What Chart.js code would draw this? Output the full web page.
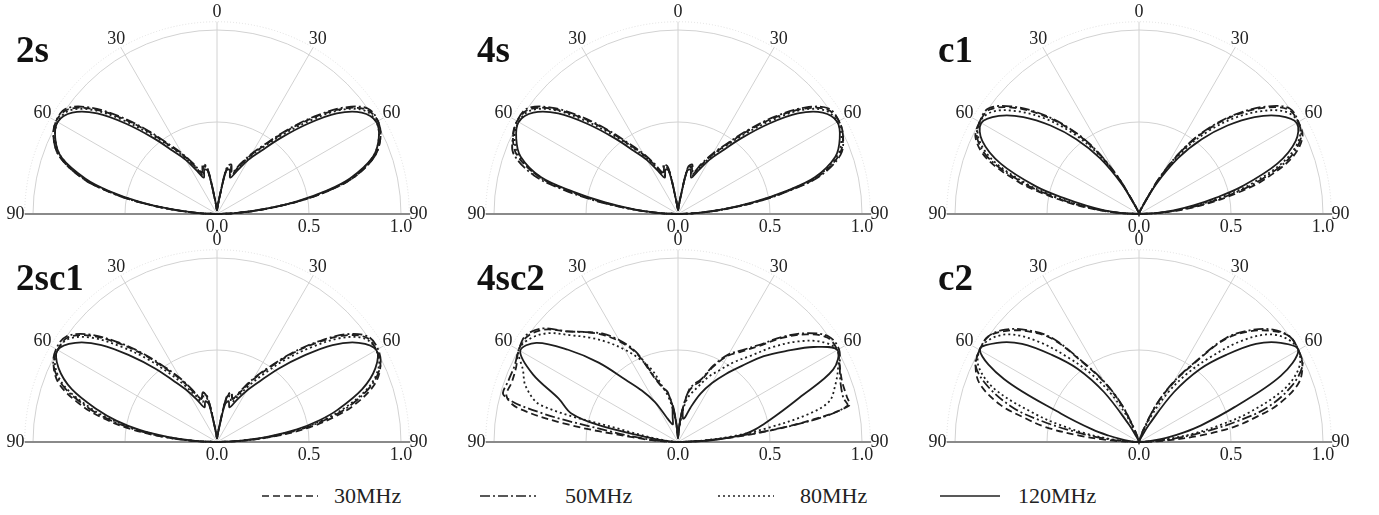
<!DOCTYPE html>
<html>
<head>
<meta charset="utf-8">
<script src="https://cdn.jsdelivr.net/npm/chart.js@4.4.1/dist/chart.umd.min.js"></script>
<style>
  body { margin: 0; background: #fff; width: 1379px; height: 515px; position: relative; overflow: hidden;
         font-family: "Liberation Serif", "DejaVu Serif", serif; }
  canvas { position: absolute; }
  .lg { position: absolute; top: 484px; height: 24px; line-height: 24px; font-size: 22px; color: #222; }
  .lg svg { display: block; margin-top: 7px; }
</style>
</head>
<body>

<div class="lg" style="left:262px"><svg width="56" height="10"><line x1="0" y1="5" x2="56" y2="5" stroke="#222" stroke-width="1.6" stroke-dasharray="7,4"/></svg></div>
<div class="lg" style="left:334px">30MHz</div>
<div class="lg" style="left:480px"><svg width="56" height="10"><line x1="0" y1="5" x2="56" y2="5" stroke="#222" stroke-width="1.6" stroke-dasharray="10,3,2,3"/></svg></div>
<div class="lg" style="left:565px">50MHz</div>
<div class="lg" style="left:718px"><svg width="56" height="10"><line x1="0" y1="5" x2="56" y2="5" stroke="#222" stroke-width="1.6" stroke-dasharray="2,3"/></svg></div>
<div class="lg" style="left:800px">80MHz</div>
<div class="lg" style="left:940px"><svg width="60" height="10"><line x1="0" y1="5" x2="60" y2="5" stroke="#222" stroke-width="1.6"/></svg></div>
<div class="lg" style="left:1018px">120MHz</div>

<script>
// angles in degrees from vertical (left side negative)
const THETA = [-90,-87,-84,-81,-78,-75,-70,-65,-60,-55,-50,-45,-40,-35,-30,-25,-20,-16,-12,-8,-4,
               0,
               4,8,12,16,20,25,30,35,40,45,50,55,60,65,70,75,78,81,84,87,90];

const FREQS = ['30MHz', '50MHz', '80MHz', '120MHz'];

// normalised pattern
// 2s
const S2S_30  = [0,.11,.26,.45,.62,.76,.91,.98,1.01,.99,.89,.74,.59,.46,.37,.29,.23,.27,.25,.08,.03, .02, .03,.08,.25,.27,.23,.29,.37,.46,.59,.74,.89,.99,1.01,.98,.91,.77,.63,.46,.27,.11,0];
const S2S_50  = [0,.11,.26,.45,.62,.76,.91,.98,1.01,1.0,.90,.75,.60,.47,.38,.30,.24,.28,.26,.09,.03, .02, .03,.09,.26,.28,.24,.30,.38,.47,.60,.75,.90,1.0,1.01,.98,.91,.77,.63,.46,.27,.11,0];
const S2S_80  = [0,.10,.26,.44,.61,.75,.90,.97,1.0,.98,.88,.72,.57,.45,.36,.28,.22,.26,.25,.08,.03, .02, .03,.08,.25,.26,.22,.28,.36,.45,.57,.72,.88,.98,1.0,.97,.90,.76,.62,.45,.26,.11,0];
const S2S_120 = [0,.10,.25,.43,.60,.74,.90,.97,1.0,.96,.85,.69,.54,.42,.34,.26,.21,.25,.24,.08,.03, .02, .03,.08,.24,.25,.21,.26,.34,.42,.54,.69,.85,.96,1.0,.97,.90,.75,.61,.44,.26,.11,0];
// 4s
const S4S_30  = [0,.11,.25,.43,.61,.78,.93,.99,1.01,.99,.89,.74,.59,.46,.37,.29,.23,.27,.25,.08,.03, .02, .03,.08,.25,.27,.23,.29,.37,.46,.59,.74,.89,.99,1.01,.99,.93,.79,.62,.44,.26,.11,0];
const S4S_50  = [0,.11,.26,.45,.64,.81,.95,.99,1.01,1.0,.90,.75,.60,.47,.38,.30,.24,.28,.26,.09,.03, .02, .03,.09,.26,.28,.24,.30,.38,.47,.60,.75,.90,1.0,1.01,.99,.94,.80,.63,.45,.26,.11,0];
const S4S_80  = [0,.10,.25,.42,.60,.78,.92,.98,1.0,.98,.88,.72,.57,.45,.36,.28,.22,.26,.25,.08,.03, .02, .03,.08,.25,.26,.22,.28,.36,.45,.57,.72,.88,.98,1.0,.98,.92,.78,.61,.43,.25,.10,0];
const S4S_120 = [0,.10,.24,.40,.58,.77,.91,.97,1.0,.96,.85,.69,.54,.42,.34,.26,.21,.25,.24,.08,.03, .02, .03,.08,.24,.25,.21,.26,.34,.42,.54,.69,.85,.96,1.0,.97,.91,.77,.60,.42,.25,.10,0];
// c1
const C1_30  = [0,.11,.24,.38,.53,.68,.88,.98,1.0,.99,.90,.77,.62,.45,.24,.06,.02,.01,0,0,0, 0, 0,0,0,.01,.02,.06,.24,.45,.62,.77,.90,.99,1.0,.98,.88,.69,.54,.39,.25,.11,0];
const C1_50  = [0,.10,.22,.36,.50,.65,.86,.97,1.0,1.0,.91,.78,.63,.46,.25,.06,.02,.01,0,0,0, 0, 0,0,0,.01,.02,.06,.25,.46,.63,.78,.91,1.0,1.0,.97,.86,.66,.51,.37,.23,.10,0];
const C1_80  = [0,.10,.21,.34,.48,.63,.84,.96,1.0,.97,.87,.74,.59,.42,.22,.05,.02,.01,0,0,0, 0, 0,0,0,.01,.02,.05,.22,.42,.59,.74,.87,.97,1.0,.96,.84,.63,.48,.34,.21,.10,0];
const C1_120 = [0,.09,.19,.29,.42,.58,.80,.94,.99,.93,.82,.68,.53,.37,.19,.05,.02,.01,0,0,0, 0, 0,0,0,.01,.02,.05,.19,.37,.53,.68,.82,.93,.99,.94,.80,.58,.43,.30,.19,.09,0];
// 2sc1
const C21_30  = [0,.15,.33,.50,.64,.76,.91,.98,1.0,.99,.90,.76,.62,.49,.39,.30,.25,.28,.24,.08,.03, .02, .03,.08,.24,.28,.25,.30,.39,.49,.62,.76,.90,.99,1.0,.98,.91,.77,.65,.51,.34,.15,0];
const C21_50  = [0,.14,.31,.47,.61,.73,.89,.98,1.01,1.0,.91,.77,.63,.50,.40,.31,.25,.28,.25,.08,.03, .02, .03,.08,.25,.28,.25,.31,.40,.50,.63,.77,.91,1.0,1.01,.98,.89,.74,.62,.48,.32,.14,0];
const C21_80  = [0,.13,.29,.45,.59,.71,.88,.97,1.0,.98,.88,.73,.59,.46,.36,.28,.23,.26,.23,.08,.03, .02, .03,.08,.23,.26,.23,.28,.36,.46,.59,.73,.88,.98,1.0,.97,.88,.72,.60,.46,.30,.13,0];
const C21_120 = [0,.12,.27,.43,.56,.67,.84,.95,1.0,.94,.82,.66,.52,.40,.32,.25,.20,.23,.21,.07,.03, .02, .03,.07,.21,.23,.20,.25,.32,.40,.52,.66,.82,.94,1.0,.95,.84,.68,.57,.44,.28,.12,0];
// 4sc2
const C42_30  = [0,.10,.25,.60,.89,.965,.96,.97,1.0,1.0,.95,.85,.78,.71,.63,.53,.37,.31,.28,.18,.07, .02, .07,.18,.28,.32,.35,.45,.54,.60,.68,.80,.91,.99,1.0,.97,.95,.95,.95,.70,.40,.15,0];
const C42_50  = [0,.08,.20,.38,.76,.98,.98,.98,1.0,1.01,.96,.85,.78,.72,.64,.54,.38,.31,.28,.18,.07, .02, .07,.18,.29,.33,.36,.46,.55,.61,.69,.81,.92,1.0,1.01,.97,.94,.93,.94,.72,.36,.14,0];
const C42_80  = [0,.02,.06,.13,.28,.77,.88,.93,1.0,.98,.92,.82,.74,.66,.58,.50,.42,.32,.25,.16,.06, .02, .06,.16,.24,.28,.32,.39,.45,.53,.61,.73,.85,.95,1.0,.96,.91,.85,.72,.50,.30,.12,0];
const C42_120 = [0,.03,.08,.18,.44,.60,.69,.87,.99,.94,.78,.61,.44,.34,.25,.15,.11,.10,.14,.20,.08, .02, .08,.18,.13,.14,.20,.29,.37,.45,.54,.66,.77,.90,1.0,.93,.70,.55,.48,.42,.34,.18,0];
// c2
const C2_30  = [0,.14,.32,.51,.64,.78,.92,.98,1.0,1.0,.94,.85,.73,.52,.37,.22,.07,.02,0,0,0, 0, 0,0,0,.02,.07,.22,.37,.52,.73,.85,.94,1.0,1.0,.98,.92,.78,.65,.52,.33,.14,0];
const C2_50  = [0,.08,.20,.35,.53,.70,.87,.98,1.0,1.0,.95,.86,.74,.53,.38,.23,.08,.02,0,0,0, 0, 0,0,0,.02,.08,.23,.38,.53,.74,.86,.95,1.0,1.0,.98,.88,.72,.55,.37,.21,.08,0];
const C2_80  = [0,.06,.16,.29,.43,.58,.83,.96,1.0,.98,.91,.77,.60,.45,.30,.15,.04,.01,0,0,0, 0, 0,0,0,.01,.04,.15,.30,.45,.60,.77,.91,.98,1.0,.96,.84,.62,.46,.31,.17,.06,0];
const C2_120 = [0,.02,.05,.10,.17,.26,.45,.81,1.0,.94,.83,.67,.52,.33,.11,.03,.01,0,0,0,0, 0, 0,0,0,0,.01,.03,.11,.33,.52,.67,.83,.94,1.0,.85,.55,.35,.25,.16,.08,.03,0];

const RINGS = [0.5, 1.0];
const SPOKES = [-60, -30, 0, 30, 60];
const ANGLE_LABELS = [-90, -60, -30, 0, 30, 60, 90];
const RADIAL_LABELS = ['0.0', '0.5', '1.0'];

// line styles per frequency
const DASHES = [[7, 4], [10, 3, 2, 3], [2, 3], []];

const R = 184;           // pixels for r = 1
const CW = 460, CH = 250, TOP = 220;

const panels = [
  { title: '2s',   cx: 216.7,  cy: 213.5, series: [S2S_30, S2S_50, S2S_80, S2S_120] },
  { title: '4s',   cx: 678.3,  cy: 213.5, series: [S4S_30, S4S_50, S4S_80, S4S_120] },
  { title: 'c1',   cx: 1139,   cy: 213.5, series: [C1_30, C1_50, C1_80, C1_120] },
  { title: '2sc1', cx: 216.7,  cy: 441.5, series: [C21_30, C21_50, C21_80, C21_120] },
  { title: '4sc2', cx: 678.3,  cy: 441.5, series: [C42_30, C42_50, C42_80, C42_120] },
  { title: 'c2',   cx: 1139,   cy: 441.5, series: [C2_30, C2_50, C2_80, C2_120] }
];

const rad = d => d * Math.PI / 180;

function toXY(r) {
  return THETA.map((a, i) => ({ x: r[i] * Math.sin(rad(a)), y: r[i] * Math.cos(rad(a)) }));
}

// half polar grid drawn from the chart scales
const polarGrid = {
  id: 'polarGrid',
  beforeDatasetsDraw(chart, args, opts) {
    const { ctx } = chart;
    const xs = chart.scales.x, ys = chart.scales.y;
    const px = (x, y) => [xs.getPixelForValue(x), ys.getPixelForValue(y)];
    const [cx, cy] = px(0, 0);
    const rp = xs.getPixelForValue(1) - cx;

    ctx.save();
    ctx.strokeStyle = '#d2d2d2';
    ctx.lineWidth = 1;
    RINGS.forEach(r => {
      ctx.beginPath();
      ctx.arc(cx, cy, r * rp, Math.PI, 2 * Math.PI);
      ctx.stroke();
    });
    ctx.strokeStyle = '#dedede';
    ctx.setLineDash([1, 2]);
    ctx.beginPath();
    ctx.arc(cx, cy, 1.045 * rp, Math.PI, 2 * Math.PI);
    ctx.stroke();
    ctx.setLineDash([]);

    ctx.strokeStyle = '#d2d2d2';
    SPOKES.forEach(a => {
      const [ex, ey] = px(1.045 * Math.sin(rad(a)), 1.045 * Math.cos(rad(a)));
      ctx.beginPath();
      ctx.moveTo(cx, cy);
      ctx.lineTo(ex, ey);
      ctx.stroke();
    });

    // 90 - 90 base line
    ctx.strokeStyle = '#8a8a8a';
    ctx.lineWidth = 2;
    ctx.beginPath();
    ctx.moveTo(px(-1.045, 0)[0], cy);
    ctx.lineTo(px(1.05, 0)[0], cy);
    ctx.stroke();

    ctx.fillStyle = '#222';
    ctx.font = '18px "Liberation Serif", serif';
    ctx.textAlign = 'center';
    ctx.textBaseline = 'middle';
    ANGLE_LABELS.forEach(a => {
      const [lx, ly] = px(1.095 * Math.sin(rad(a)), 1.095 * Math.cos(rad(a)));
      ctx.fillText(String(Math.abs(a)), lx, ly);
    });
    RADIAL_LABELS.forEach(t => {
      ctx.fillText(t, xs.getPixelForValue(parseFloat(t)), cy + 13);
    });

    ctx.font = 'bold 37px "Liberation Serif", serif';
    ctx.textAlign = 'left';
    ctx.textBaseline = 'alphabetic';
    ctx.fillStyle = '#111';
    ctx.fillText(opts.title, cx - 201, cy - 152);
    ctx.restore();
  }
};

panels.forEach(p => {
  const cv = document.createElement('canvas');
  cv.width = CW;
  cv.height = CH;
  cv.style.left = (p.cx - CW / 2) + 'px';
  cv.style.top = (p.cy - TOP) + 'px';
  document.body.appendChild(cv);

  new Chart(cv, {
    type: 'scatter',
    data: {
      datasets: p.series.map((r, i) => ({
        label: FREQS[i],
        data: toXY(r),
        showLine: true,
        borderColor: '#1e1e1e',
        borderWidth: 1.8,
        borderDash: DASHES[i],
        pointRadius: 0,
        tension: 0.35,
        fill: false,
        clip: false
      }))
    },
    options: {
      responsive: false,
      animation: false,
      events: [],
      layout: { padding: 0 },
      scales: {
        x: { type: 'linear', display: false, min: -CW / 2 / R, max: CW / 2 / R },
        y: { type: 'linear', display: false, min: -(CH - TOP) / R, max: TOP / R }
      },
      plugins: {
        legend: { display: false },
        tooltip: { enabled: false },
        polarGrid: { title: p.title }
      }
    },
    plugins: [polarGrid]
  });
});
</script>
</body>
</html>
